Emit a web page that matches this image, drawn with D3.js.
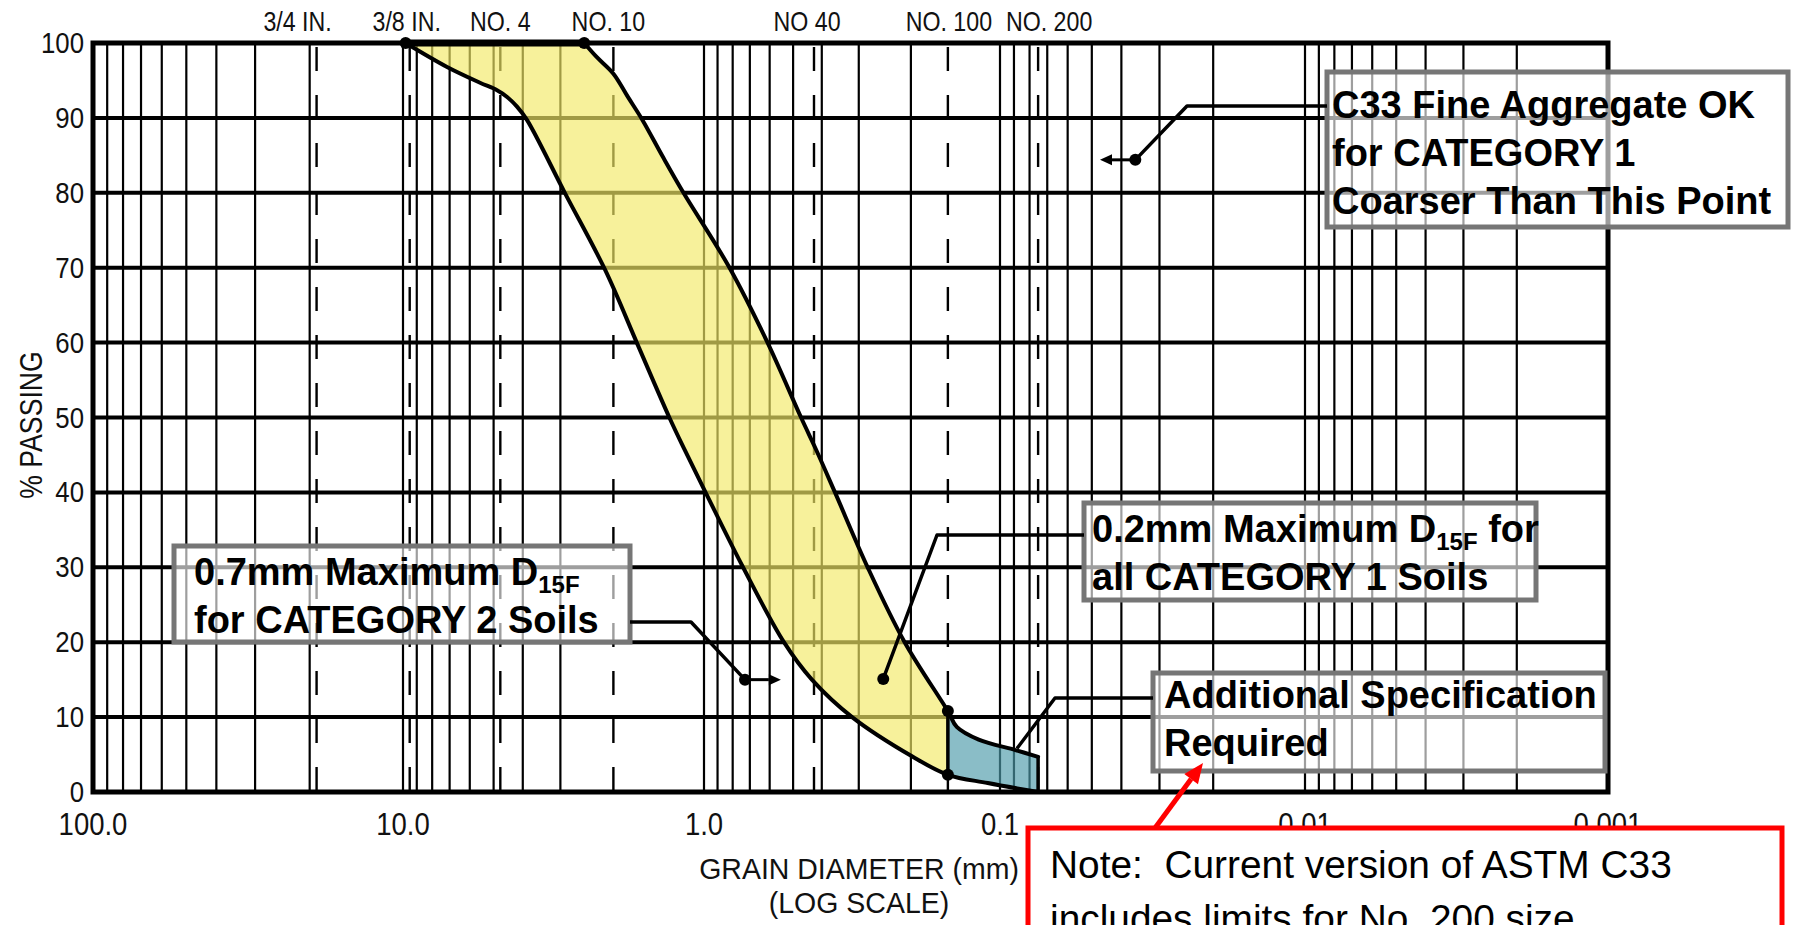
<!DOCTYPE html>
<html lang="en">
<head>
<meta charset="utf-8">
<title>Filter gradation band</title>
<script src="https://cdn.jsdelivr.net/npm/d3@7/dist/d3.min.js"></script>
<style>
  body { margin: 0; background: #fff; }
  svg text { font-family: "Liberation Sans", Arial, sans-serif; }
</style>
</head>
<body>
<script>
// ---- data ----
var decades = [100, 10, 1, 0.1, 0.01, 0.001];
var decadeLabels = ["100.0", "10.0", "1.0", "0.1", "0.01", "0.001"];
var passTicks = [0, 10, 20, 30, 40, 50, 60, 70, 80, 90, 100];

var sieveNames = ["3/4 IN.", "3/8 IN.", "NO. 4", "NO. 10", "NO 40", "NO. 100", "NO. 200"];
var sieveMm = [19, 9.5, 4.75, 2.0, 0.425, 0.15, 0.075];

// fine (right) limit of the band
var fineMm  = [2.5, 2.27, 2.0, 1.79, 1.6, 1.37, 1.17, 0.82, 0.61, 0.47, 0.418, 0.361, 0.28, 0.21, 0.15, 0.14, 0.118, 0.089, 0.075];
var finePct = [100, 98.1, 95.9, 92.8, 89.7, 84.8, 80, 70, 60, 50, 45.7, 40, 30, 20, 10.8, 8.7, 7, 5.6, 4.7];
// coarse (left) limit of the band
var coarseMm  = [9.8, 7.14, 5.55, 4.87, 4.51, 4.18, 3.87, 2.9, 2.13, 1.66, 1.3, 1.16, 0.988, 0.738, 0.537, 0.432, 0.316, 0.197, 0.15, 0.11, 0.075];
var coarsePct = [100, 96.8, 94.7, 93.7, 92.8, 91.5, 89.7, 80, 69.7, 59.7, 49.9, 45.7, 40, 30, 20, 15, 10, 4.7, 2.3, 1.2, 0];

var bandDotMm  = [9.8, 2.5, 0.15, 0.15];
var bandDotPct = [100, 100, 10.8, 2.3];
var splitMm = 0.15;   // No. 100 sieve, yellow / blue split

// criterion points used by the call-outs
var c33Pt  = [0.036, 84.4], c33Tip  = [0.047, 84.4];
var cat1Pt = [0.248, 15.1];
var cat2Pt = [0.727, 15.0], cat2Tip = [0.55, 15.0];
var addlPt = [0.088, 5.8];

var noteC33  = ["C33 Fine Aggregate OK", "for CATEGORY 1", "Coarser Than This Point"];
var noteCat1 = ["0.2mm Maximum D15F for", "all CATEGORY 1 Soils"];
var noteCat2 = ["0.7mm Maximum D15F", "for CATEGORY 2 Soils"];
var noteAddl = ["Additional Specification", "Required"];
var redNote  = ["Note:  Current version of ASTM C33", "includes limits for No. 200 size"];

// ---- page ----
var width = 1793, height = 925;
var svg = d3.select("body").append("svg")
    .attr("width", width).attr("height", height);

var plotL = 93, plotR = 1608, plotT = 43, plotB = 792;

// the scanned chart's decades are not perfectly even, so map each decade
var x = d3.scaleLog().domain(decades).range([93, 403, 704, 1000, 1305, 1608]);
var y = d3.scaleLinear().domain([0, 100]).range([plotB, plotT]);

// grid values 1..9 in each decade
var gridMm = [];
for (var k = 1; k >= -3; k--) {
    for (var n = 1; n <= 9; n++) {
        var v = n * Math.pow(10, k);
        if (v <= 100 && v > 0.001) gridMm.push(v);
    }
}
// drop a solid line where a sieve dash sits on it
gridMm = gridMm.filter(function(v) {
    return !sieveMm.some(function(s) { return Math.abs(Math.log10(v / s)) < 0.005; });
});

var grid = svg.append("g");
grid.selectAll("line.v").data(gridMm).enter().append("line")
    .attr("x1", function(d) { return x(d); }).attr("x2", function(d) { return x(d); })
    .attr("y1", plotT).attr("y2", plotB)
    .attr("stroke", "#000").attr("stroke-width", 2.2);

grid.selectAll("line.s").data(sieveMm).enter().append("line")
    .attr("x1", function(d) { return x(d); }).attr("x2", function(d) { return x(d); })
    .attr("y1", plotT).attr("y2", plotB)
    .attr("stroke", "#000").attr("stroke-width", 2.4)
    .attr("stroke-dasharray", "24,24").attr("stroke-dashoffset", 44);

grid.selectAll("line.h").data(passTicks.slice(1, -1)).enter().append("line")
    .attr("x1", plotL).attr("x2", plotR)
    .attr("y1", function(d) { return y(d); }).attr("y2", function(d) { return y(d); })
    .attr("stroke", "#000").attr("stroke-width", 4);

// ---- gradation band ----
var lineGen = d3.line()
    .x(function(d) { return x(d[0]); })
    .y(function(d) { return y(d[1]); })
    .curve(d3.curveCatmullRom.alpha(0.5));

var finePts = d3.zip(fineMm, finePct);
var coarsePts = d3.zip(coarseMm, coarsePct);
var bandPath = lineGen(finePts) + "L" + lineGen(coarsePts.slice().reverse()).slice(1) + "Z";

var defs = svg.append("defs");
defs.append("clipPath").attr("id", "clipY").append("rect")
    .attr("x", plotL).attr("y", plotT).attr("width", x(splitMm) - plotL).attr("height", plotB - plotT);
defs.append("clipPath").attr("id", "clipB").append("rect")
    .attr("x", x(splitMm)).attr("y", plotT).attr("width", plotR - x(splitMm)).attr("height", plotB - plotT);

svg.append("path").attr("d", bandPath).attr("clip-path", "url(#clipY)")
    .attr("fill", "#f3e967").attr("fill-opacity", 0.66);
svg.append("path").attr("d", bandPath).attr("clip-path", "url(#clipB)")
    .attr("fill", "#4e9baa").attr("fill-opacity", 0.66);

var band = svg.append("g").attr("fill", "none").attr("stroke", "#000")
    .attr("stroke-linejoin", "round").attr("stroke-linecap", "round");
band.append("path").attr("d", lineGen(finePts)).attr("stroke-width", 4);
band.append("path").attr("d", lineGen(coarsePts)).attr("stroke-width", 4);
band.append("line")
    .attr("x1", x(bandDotMm[0])).attr("x2", x(bandDotMm[1]))
    .attr("y1", y(100)).attr("y2", y(100)).attr("stroke-width", 7);
band.append("line")
    .attr("x1", x(splitMm)).attr("x2", x(splitMm))
    .attr("y1", y(bandDotPct[2])).attr("y2", y(bandDotPct[3])).attr("stroke-width", 3.5);
band.append("line")
    .attr("x1", x(fineMm[fineMm.length - 1])).attr("x2", x(fineMm[fineMm.length - 1]))
    .attr("y1", y(finePct[finePct.length - 1])).attr("y2", y(0)).attr("stroke-width", 3.5);

// frame
svg.append("rect").attr("x", plotL).attr("y", plotT)
    .attr("width", plotR - plotL).attr("height", plotB - plotT)
    .attr("fill", "none").attr("stroke", "#000").attr("stroke-width", 5);

svg.append("g").selectAll("circle").data(d3.zip(bandDotMm, bandDotPct)).enter().append("circle")
    .attr("cx", function(d) { return x(d[0]); }).attr("cy", function(d) { return y(d[1]); })
    .attr("r", 6).attr("fill", "#000");

// ---- axes text (the original uses a narrow sans, so squeeze Liberation Sans) ----
function label(g, tx, ty, size, anchor, str, rot, sx) {
    return g.append("text")
        .attr("transform", "translate(" + tx + "," + ty + ")" + (rot ? " rotate(" + rot + ")" : "") + " scale(" + (sx || 0.86) + ",1)")
        .attr("text-anchor", anchor).attr("font-size", size).attr("fill", "#111")
        .text(str);
}

var yLab = svg.append("g");
passTicks.forEach(function(d) { label(yLab, 84, y(d) + 10, 30, "end", d); });

var xLab = svg.append("g");
decades.forEach(function(d, i) { label(xLab, x(d), 835, 32, "middle", decadeLabels[i]); });

// sieve labels sit a little off their lines in the original
var sieveNudge = [-19, -3, 0, -5, -7, 1, 11];
var sLab = svg.append("g");
sieveMm.forEach(function(d, i) { label(sLab, x(d) + sieveNudge[i], 31, 27, "middle", sieveNames[i]); });

label(svg, 42, 425, 31, "middle", "% PASSING", -90);
label(svg, 859, 879, 30, "middle", "GRAIN DIAMETER (mm)", 0, 0.95);
label(svg, 859, 913, 30, "middle", "(LOG SCALE)", 0, 0.95);

// ---- call-outs ----
function addBox(bx, by, bw, bh, lines, tx, ty) {
    var g = svg.append("g");
    g.append("rect").attr("x", bx).attr("y", by).attr("width", bw).attr("height", bh)
        .attr("fill", "#fff").attr("fill-opacity", 0.62)
        .attr("stroke", "#767676").attr("stroke-width", 5);
    lines.forEach(function(ln, i) {
        var t = g.append("text").attr("x", tx).attr("y", ty + i * 48)
            .attr("font-size", 38).attr("font-weight", "bold").attr("fill", "#000");
        var parts = ln.split("D15F");
        t.append("tspan").text(parts[0]);
        if (parts.length > 1) {
            t.append("tspan").text("D");
            t.append("tspan").attr("font-size", 24).attr("dy", 8).text("15F");
            t.append("tspan").attr("dy", -8).text(parts[1]);
        }
    });
}

function leader(pts) {
    svg.append("path").attr("d", d3.line()(pts))
        .attr("fill", "none").attr("stroke", "#000").attr("stroke-width", 3.5)
        .attr("stroke-linejoin", "round");
}
function dot(p) {
    svg.append("circle").attr("cx", x(p[0])).attr("cy", y(p[1])).attr("r", 6).attr("fill", "#000");
}
function arrow(from, to, col, sw, head, hw) {
    var x0 = from[0], y0 = from[1], x1 = to[0], y1 = to[1];
    var a = Math.atan2(y1 - y0, x1 - x0);
    var bx = x1 - head * Math.cos(a), by = y1 - head * Math.sin(a);
    svg.append("line").attr("x1", x0).attr("y1", y0).attr("x2", bx).attr("y2", by)
        .attr("stroke", col).attr("stroke-width", sw);
    var nx = -Math.sin(a) * hw / 2, ny = Math.cos(a) * hw / 2;
    svg.append("path")
        .attr("d", "M" + x1 + "," + y1 + "L" + (bx + nx) + "," + (by + ny) + "L" + (bx - nx) + "," + (by - ny) + "Z")
        .attr("fill", col);
}

addBox(1327, 72, 461, 155, noteC33, 1332, 118);
leader([[1327, 106], [1187, 106], [x(c33Pt[0]), y(c33Pt[1])]]);
arrow([x(c33Pt[0]), y(c33Pt[1])], [x(c33Tip[0]), y(c33Tip[1])], "#000", 3, 12, 11);
dot(c33Pt);

addBox(1084, 503, 452, 97, noteCat1, 1092, 542);
leader([[1084, 535], [937, 535], [x(cat1Pt[0]), y(cat1Pt[1])]]);
dot(cat1Pt);

addBox(174, 546, 456, 96, noteCat2, 194, 585);
leader([[630, 622], [691, 622], [x(cat2Pt[0]), y(cat2Pt[1])]]);
arrow([x(cat2Pt[0]), y(cat2Pt[1])], [x(cat2Tip[0]), y(cat2Tip[1])], "#000", 3, 12, 11);
dot(cat2Pt);

addBox(1153, 673, 452, 98, noteAddl, 1164, 708);
leader([[1153, 698], [1055, 698], [x(addlPt[0]), y(addlPt[1])]]);

// ---- red note ----
svg.append("rect").attr("x", 1028).attr("y", 828).attr("width", 754).attr("height", 140)
    .attr("fill", "#fff").attr("stroke", "#f00").attr("stroke-width", 5);
var redText = svg.append("g").attr("fill", "#000");
var redLines = redNote.map(function(s, i) {
    return redText.append("text").attr("x", 1050).attr("y", 878 + i * 54)
        .attr("font-family", "Lato, 'Open Sans', sans-serif").attr("font-size", 42)
        .style("white-space", "pre").text(s);
});
// fit the first line to the width it has in the original
var fit = 42 * 622 / redLines[0].node().getComputedTextLength();
redLines.forEach(function(t) { t.attr("font-size", fit); });
arrow([1155, 828], [1203, 763], "#f00", 5, 20, 17);
</script>
</body>
</html>
